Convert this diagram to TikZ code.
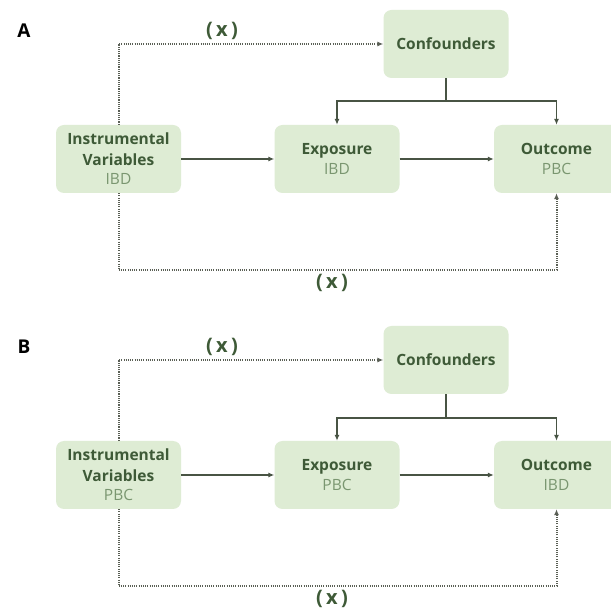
\documentclass[tikz,border=0pt]{standalone}
\usepackage{fontspec}
\setmainfont{Open Sans}
\usepackage{tikz}
\usepackage{xcolor}
\usetikzlibrary{positioning, arrows.meta}
\definecolor{mrbox}{RGB}{222, 236, 212}
\definecolor{mrtitle}{RGB}{62, 90, 55}
\definecolor{mrsub}{RGB}{122, 150, 112}
\definecolor{mrline}{RGB}{72, 84, 68}
\definecolor{mrdot}{RGB}{90, 95, 85}
\tikzset{
    mrnode/.style={rectangle, rounded corners=8pt, fill=mrbox, draw=none, minimum width=125pt, minimum height=68pt, align=center, text=mrtitle, font=\fontsize{15.5}{20.5}\selectfont\bfseries},
    solidarrow/.style={-{Latex[length=6pt, width=5pt]}, line width=1.8pt, draw=mrline},
    dotarrow/.style={-{Latex[length=6pt, width=5pt]}, line width=2pt, draw=mrdot, dash pattern=on 1.1pt off 1.1pt},
    xlabel/.style={font=\fontsize{20}{22}\selectfont\bfseries, text=mrtitle},
    panel/.style={font=\fontsize{19}{22}\selectfont\bfseries, text=black}
}
\newcommand{\mrsubline}[1]{\\[-1pt]{\mdseries\color{mrsub}#1}}

\begin{document}
\begin{tikzpicture}[x=1pt, y=-1pt]
    \clip (0,0) rectangle (611,609);
    \fill[white] (0,0) rectangle (611,609);

    % panel A
    \node[panel] (labA) at (24,31) {A};
    \node[mrnode] (confA) at (446,44) {Confounders};
    \node[mrnode] (ivA) at (118.5,159) {Instrumental\\Variables\mrsubline{IBD}};
    \node[mrnode] (expA) at (337,159) {Exposure\mrsubline{IBD}};
    \node[mrnode] (outA) at (556.5,159) {Outcome\mrsubline{PBC}};
    \coordinate (brA) at (446,101);
    \coordinate (lowA) at (118.5,270);

    \draw[solidarrow] (ivA) -- (expA);
    \draw[solidarrow] (expA) -- (outA);
    \draw[line width=1.8pt, draw=mrline] (confA.south) -- (brA);
    \draw[solidarrow] (brA) -| (expA.north);
    \draw[solidarrow] (brA) -| (outA.north);
    \draw[dotarrow] (ivA.north) |- (confA.west);
    \draw[dotarrow] (ivA.south) -- (lowA) -| (outA.south);

    % (x) labels A
    \node[xlabel] (xtopA) at (222,31) {(\,x\,)};
    \node[xlabel] (xbotA) at (332,283) {(\,x\,)};

    % panel B
    \node[panel] (labB) at (24,347) {B};
    \node[mrnode] (confB) at (446,360) {Confounders};
    \node[mrnode] (ivB) at (118.5,475) {Instrumental\\Variables\mrsubline{PBC}};
    \node[mrnode] (expB) at (337,475) {Exposure\mrsubline{PBC}};
    \node[mrnode] (outB) at (556.5,475) {Outcome\mrsubline{IBD}};
    \coordinate (brB) at (446,418);
    \coordinate (lowB) at (118.5,586);

    \draw[solidarrow] (ivB) -- (expB);
    \draw[solidarrow] (expB) -- (outB);
    \draw[line width=1.8pt, draw=mrline] (confB.south) -- (brB);
    \draw[solidarrow] (brB) -| (expB.north);
    \draw[solidarrow] (brB) -| (outB.north);
    \draw[dotarrow] (ivB.north) |- (confB.west);
    \draw[dotarrow] (ivB.south) -- (lowB) -| (outB.south);

    % (x) labels B
    \node[xlabel] (xtopB) at (222,347) {(\,x\,)};
    \node[xlabel] (xbotB) at (332,599) {(\,x\,)};
\end{tikzpicture}
\end{document}
